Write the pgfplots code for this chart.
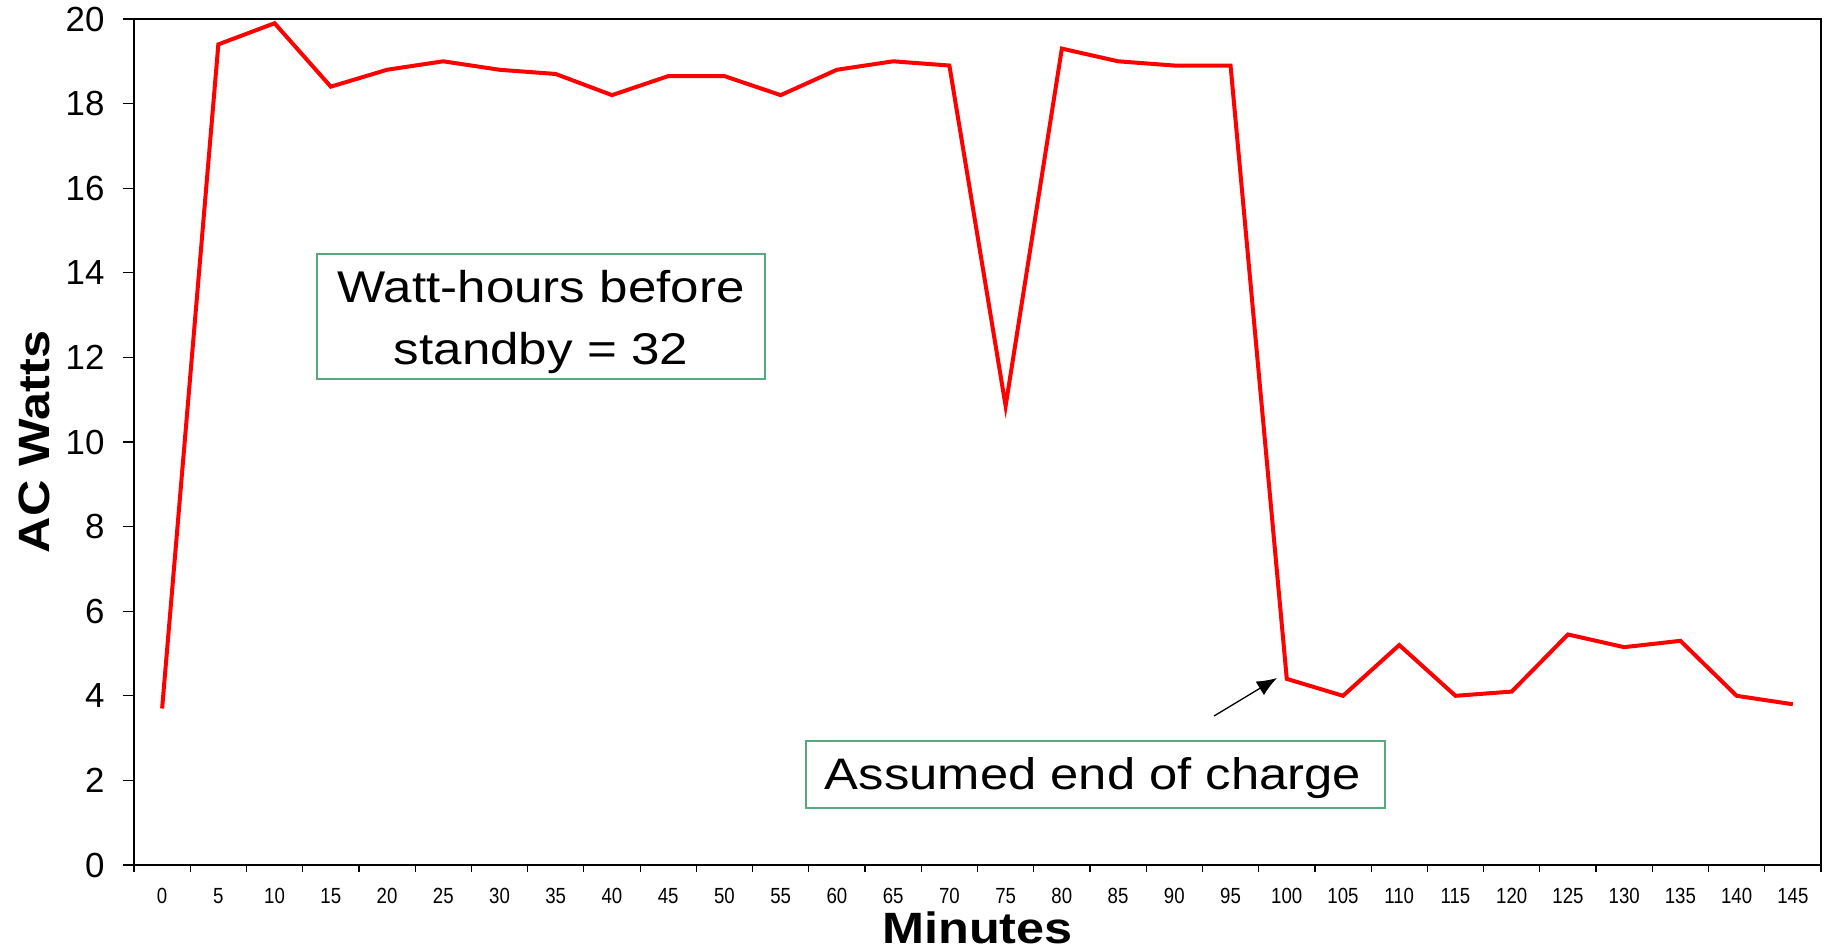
\documentclass[border=0pt]{standalone}
\usepackage{pgfplots}
\pgfplotsset{compat=1.18}
\usepackage{fontspec}
\setmainfont{Liberation Sans}
\newfontfamily\widefont[FakeStretch=1.15]{Liberation Sans}
\newfontfamily\narrowfont[FakeStretch=0.85]{Liberation Sans}
\usetikzlibrary{arrows.meta}
\definecolor{boxgreen}{RGB}{88,168,128}
\pgfplotstableread{
min watts
0 3.7
5 19.4
10 19.9
15 18.4
20 18.8
25 19.0
30 18.8
35 18.7
40 18.2
45 18.65
50 18.65
55 18.2
60 18.8
65 19.0
70 18.9
75 10.85
80 19.3
85 19.0
90 18.9
95 18.9
100 4.4
105 4.0
110 5.2
115 4.0
120 4.1
125 5.45
130 5.15
135 5.3
140 4.0
145 3.8
}\datatable
\begin{document}
\begin{tikzpicture}
\path[use as bounding box] (0,0) rectangle (1829bp,-951bp);
\begin{axis}[
  at={(134bp,-865bp)}, anchor=south west,
  scale only axis, width=1687bp, height=846bp,
  xmin=-2.5, xmax=147.5, ymin=0, ymax=20,
  xtick={0,5,...,145},
  minor xtick={-2.5,2.5,...,147.5},
  ytick={0,2,...,20},
  tick align=outside,
  xtick pos=bottom, ytick pos=left,
  major tick length=11bp,
  minor tick length=7bp,
  major x tick style={draw=none},
  tick style={black, line width=1.2bp},
  minor tick style={black, line width=1.2bp},
  axis line style={line width=1.3bp},
  /pgf/number format/assume math mode=true,
  xticklabel style={font=\narrowfont\fontsize{22}{24}\selectfont, yshift=-9bp},
  yticklabel style={font=\fontsize{35}{40}\selectfont, xshift=-15bp},
  xlabel={Minutes},
  ylabel={AC Watts},
  xlabel style={font=\widefont\bfseries\fontsize{44}{50}\selectfont, at={(axis description cs:0.5,0)}, anchor=base, yshift=-78bp},
  ylabel style={font=\widefont\bfseries\fontsize{44}{50}\selectfont, at={(axis description cs:-0.05,0.5)}, anchor=base},
  clip=false,
]
\addplot[color=red, line width=4bp, mark=none, line join=miter] table[x=min, y=watts] {\datatable};
\end{axis}
\node[draw=boxgreen, line width=1.5bp, minimum width=448bp, minimum height=125bp, inner sep=0pt] at (541bp,-316.5bp) {};
\node[align=center, inner sep=0pt, font=\widefont\fontsize{44.6}{62}\selectfont] at (541bp,-322bp) {Watt-hours before\\standby = 32};
\node[draw=boxgreen, line width=1.5bp, minimum width=579bp, minimum height=67bp, inner sep=0pt] at (1095.5bp,-774.5bp) {};
\node[inner sep=0pt, font=\widefont\fontsize{44.3}{60}\selectfont] at (1093bp,-778bp) {Assumed end of charge};
\draw[line width=1.3bp, -{Latex[length=20bp, width=16bp]}] (1214bp,-716bp) -- (1277bp,-678bp);
\end{tikzpicture}
\end{document}
